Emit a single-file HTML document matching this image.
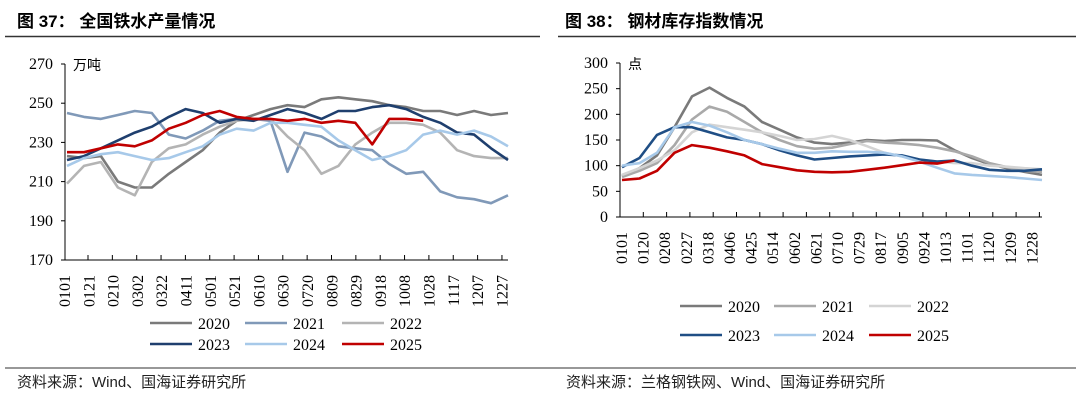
<!DOCTYPE html>
<html><head><meta charset="utf-8">
<style>
html,body{margin:0;padding:0;background:#fff;}
svg{display:block;}
.t{font-family:"Liberation Serif","Noto Serif CJK SC",serif;font-size:16px;fill:#000;}
.cn{font-family:"Liberation Sans","Noto Sans CJK SC",sans-serif;}
</style></head>
<body>
<svg id="s" width="1080" height="403" viewBox="0 0 1080 403" xmlns="http://www.w3.org/2000/svg">
<text x="17" y="27" class="cn" font-size="17" font-weight="bold">图 37：  全国铁水产量情况</text>
<line x1="5" y1="36.5" x2="540" y2="36.5" stroke="#333" stroke-width="1.5"/>
<text x="565" y="27" class="cn" font-size="17" font-weight="bold">图 38：  钢材库存指数情况</text>
<line x1="558" y1="36.5" x2="1076" y2="36.5" stroke="#333" stroke-width="1.5"/>
<line x1="5" y1="368" x2="540" y2="368" stroke="#777" stroke-width="1.5"/>
<line x1="540" y1="368" x2="1076" y2="368" stroke="#777" stroke-width="1.5"/>
<text x="17" y="387" class="cn" font-size="15" fill="#222">资料来源：Wind、国海证券研究所</text>
<text x="566" y="387" class="cn" font-size="15" fill="#222">资料来源：兰格钢铁网、Wind、国海证券研究所</text>
<g id="L"></g><g id="R"></g>
</svg>
<script>
const years = ["2020","2021","2022","2023","2024","2025"];
const colors = ["#7a7a7a","#8099b8","#b4b4b4","#1f3f6e","#a7c9e9","#c00000"];
const rightColors = ["#7a7a7a","#a9a9a9","#d4d4d4","#1f4e85","#a7c9e9","#c00000"];
const leftTicks = ["270","250","230","210","190","170"];
const leftTickVals = [270,250,230,210,190,170];
const leftCats = ["0101","0121","0210","0302","0322","0411","0501","0521","0610","0630","0720","0809","0829","0918","1008","1028","1117","1207","1227"];
const left2020 = [223,222,223,210,207,207,214,220,226,235,241,244,247,249,248,252,253,252,251,249,248,246,246,244,246,244,245];
const left2021 = [245,243,242,244,246,245,234,232,236,241,242,242,241,215,235,233,228,227,226,219,214,215,205,202,201,199,203];
const left2022 = [209,218,220,207,203,220,227,229,234,238,241,242,242,233,226,214,218,229,235,240,240,239,235,226,223,222,222];
const left2023 = [221,223,227,231,235,238,243,247,245,240,242,241,244,247,245,242,246,246,248,249,247,243,240,235,234,227,221];
const left2024 = [218,222,224,225,223,221,222,225,228,234,237,236,240,240,239,238,231,226,221,223,226,234,236,234,236,233,228];
const left2025 = [225,225,227,229,228,231,237,240,244,246,243,242,242,241,242,240,241,240,229,242,242,241];
const rightTicks = ["300","250","200","150","100","50","0"];
const rightTickVals = [300,250,200,150,100,50,0];
const rightCats = ["0101","0120","0208","0227","0318","0406","0425","0514","0602","0621","0710","0729","0817","0905","0924","1013","1101","1120","1209","1228"];
const right2020 = [80,95,120,175,235,252,232,215,185,170,155,145,142,145,150,148,150,150,149,130,115,103,95,88,82];
const right2021 = [78,90,105,140,190,215,205,185,165,150,138,133,135,142,148,145,143,140,135,128,118,105,97,90,88];
const right2022 = [82,95,110,130,165,180,175,170,165,158,150,152,158,150,138,125,118,112,108,105,105,100,98,95,93];
const right2023 = [97,115,160,175,175,165,155,150,142,130,120,112,115,118,120,122,120,112,108,110,100,92,90,90,93];
const right2024 = [100,105,125,175,185,178,165,150,142,133,125,125,128,127,127,125,118,108,96,85,82,80,78,75,72];
const right2025 = [72,75,90,125,140,135,128,120,103,97,91,88,87,88,92,96,101,106,104,110];

const NS="http://www.w3.org/2000/svg";
function mk(tag,attrs,parent){const e=document.createElementNS(NS,tag);for(const k in attrs)e.setAttribute(k,attrs[k]);parent.appendChild(e);return e;}

function drawChart(g, cfg){
  const {x0,x1,yTop,yBot,vMax,vMin,ticks,tickVals,cats,series,cols,unit,labX0,labStep,labTop,tickXs,npts,legend} = cfg;
  const ys = v => yBot - (v-vMin)/(vMax-vMin)*(yBot-yTop);
  const xs = i => x0 + 2 + i*(x1-x0-2)/(npts-1);
  let e;
  e=mk('line',{x1:x0,y1:yTop,x2:x0,y2:yBot,stroke:'#000','stroke-width':1},g);
   
  e=mk('line',{x1:x0,y1:yBot,x2:x1,y2:yBot,stroke:'#000','stroke-width':1},g);
   
  tickVals.forEach((v,i)=>{
    const y=ys(v);
    e=mk('line',{x1:x0-4,y1:y,x2:x0,y2:y,stroke:'#000'},g);
     
    e=mk('text',{x:x0-12,y:y+5,'text-anchor':'end',class:'t','font-size':17},g);
    e.textContent=ticks[i];
     
  });
  e=mk('text',{x:x0+8,y:yTop+6,class:'cn','font-size':14},g);
  e.textContent=unit;
   
  tickXs.forEach(x=>{
    e=mk('line',{x1:x,y1:yBot,x2:x,y2:yBot-5,stroke:'#000'},g);
     
  });
  cats.forEach((c,i)=>{
    const x=labX0+i*labStep;
    e=mk('text',{x:0,y:0,class:'t','font-size':16,'text-anchor':'end',transform:`translate(${x+6},${labTop}) rotate(-90)`},g);
    e.textContent=c;
     
  });
  series.forEach((arr,k)=>{
    const d=arr.map((v,i)=>(i?'L':'M')+xs(i).toFixed(1)+','+ys(v).toFixed(1)).join('');
    e=mk('path',{d,fill:'none',stroke:cols[k],'stroke-width':2.6,'stroke-linejoin':'round'},g);
     
  });
  years.forEach((yr,k)=>{
    const r=Math.floor(k/3), c=k%3;
    const lx=legend.xs[c], ly=legend.ys[r];
    e=mk('line',{x1:lx,y1:ly,x2:lx+42,y2:ly,stroke:cols[k],'stroke-width':2.6},g);
     
    e=mk('text',{x:lx+48,y:ly+6,class:'t','font-size':17},g);
    e.textContent=yr;
     
  });
}
const tL=[];for(let i=0;i<18;i++)tL.push(88+i*24.35);
drawChart(document.getElementById('L'),{x0:65,x1:508,yTop:64,yBot:260,vMax:270,vMin:170,ticks:leftTicks,tickVals:leftTickVals,cats:leftCats,
 series:[left2020,left2021,left2022,left2023,left2024,left2025],cols:colors,unit:'万吨',labX0:64,labStep:24.3,labTop:275,tickXs:tL,npts:27,
 legend:{xs:[150,245,342],ys:[323,344]}});
const tR=[];for(let i=1;i<=18;i++)tR.push(620+i*23.3);
drawChart(document.getElementById('R'),{x0:620,x1:1042,yTop:63,yBot:217,vMax:300,vMin:0,ticks:rightTicks,tickVals:rightTickVals,cats:rightCats,
 series:[right2020,right2021,right2022,right2023,right2024,right2025],cols:rightColors,unit:'点',labX0:621,labStep:21.6,labTop:232,tickXs:tR,npts:25,
 legend:{xs:[680,774,869],ys:[306,335]}});
</script>
</body></html>
